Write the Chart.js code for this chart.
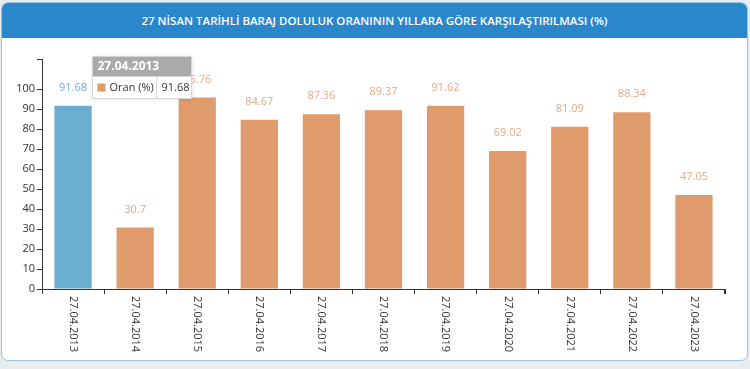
<!DOCTYPE html>
<html>
<head>
<meta charset="utf-8">
<script src="https://cdn.jsdelivr.net/npm/chart.js@4"></script>
<style>
  html, body { margin: 0; padding: 0; background: #e9ecee; }
  body { width: 750px; height: 369px; position: relative; overflow: hidden; font-family: "Open Sans", sans-serif; }
  .card { position: absolute; left: 1px; top: 2px; width: 745px; height: 357px; background: #fff;
          border: 1px solid #9fc3d6; border-radius: 7px; overflow: hidden; }
  .card-head { height: 35px; background: #2b87cc; color: #fff; text-align: center; }
  .card-head span { display: inline-block; font-weight: 600; font-size: 11.5px; line-height: 35px;
                    white-space: nowrap; }
  #chart { position: absolute; left: 0; top: 0; }
</style>
</head>
<body>
<div class="card"><div class="card-head"><span>27 NİSAN TARİHLİ BARAJ DOLULUK ORANININ YILLARA GÖRE KARŞILAŞTIRILMASI (%)</span></div></div>
<canvas id="chart" width="750" height="369"></canvas>
<script>
/* ================= DATA ================= */
const dates = ["27.04.2013", "27.04.2014", "27.04.2015", "27.04.2016", "27.04.2017", "27.04.2018",
               "27.04.2019", "27.04.2020", "27.04.2021", "27.04.2022", "27.04.2023"];
const oran = [91.68, 30.7, 95.76, 84.67, 87.36, 89.37, 91.62, 69.02, 81.09, 88.34, 47.05];
const yTicks = [0, 10, 20, 30, 40, 50, 60, 70, 80, 90, 100];
const seriesName = "Oran (%)";

/* ================= STYLE ================= */
const ORANGE = "#e09b6d";
const BLUE = "#6aaed0";
const LABEL_ORANGE = "#e6aa86";
const AXIS = "#333";
const activeIndex = 0;
const FONT = "'Open Sans', sans-serif";

/* ================= PLUGINS ================= */
const valueLabels = {
  id: "valueLabels",
  afterDatasetsDraw(chart) {
    const ctx = chart.ctx;
    const meta = chart.getDatasetMeta(0);
    ctx.save();
    ctx.font = "11px " + FONT;
    ctx.textAlign = "center";
    ctx.textBaseline = "middle";
    meta.data.forEach((bar, i) => {
      ctx.fillStyle = i === activeIndex ? BLUE : LABEL_ORANGE;
      ctx.fillText(String(oran[i]), bar.x, bar.y - 18);
    });
    ctx.restore();
  }
};

const xLabels = {
  id: "xLabels",
  afterDraw(chart) {
    const ctx = chart.ctx;
    const sx = chart.scales.x;
    const bottom = chart.chartArea.bottom;
    ctx.save();
    ctx.font = "11px " + FONT;
    ctx.fillStyle = AXIS;
    ctx.textAlign = "left";
    ctx.textBaseline = "middle";
    dates.forEach((d, i) => {
      ctx.save();
      ctx.translate(sx.getPixelForTick(i), bottom + 7);
      ctx.rotate(Math.PI / 2);
      ctx.fillText(d, 0, 0);
      ctx.restore();
    });
    // outer ticks at the ends of the x axis
    ctx.strokeStyle = AXIS;
    ctx.lineWidth = 1;
    ctx.beginPath();
    ctx.moveTo(sx.left + 0.5, bottom);
    ctx.lineTo(sx.left + 0.5, bottom + 5);
    ctx.moveTo(sx.right - 0.5, bottom);
    ctx.lineTo(sx.right - 0.5, bottom + 5);
    ctx.stroke();
    ctx.restore();
  }
};

const tooltipBox = {
  id: "tooltipBox",
  afterDraw(chart) {
    const ctx = chart.ctx;
    const bar = chart.getDatasetMeta(0).data[activeIndex];
    const x = Math.round(bar.x + bar.width / 2) + 0.5;
    const y = Math.round(bar.y - 50) + 0.5;
    const w = 99, titleH = 20, bodyH = 22;
    ctx.save();
    ctx.shadowColor = "rgba(0,0,0,0.15)";
    ctx.shadowBlur = 4;
    ctx.fillStyle = "#fff";
    ctx.fillRect(x, y, w, titleH + bodyH);
    ctx.shadowBlur = 0;
    ctx.fillStyle = "#aaaaaa";
    ctx.fillRect(x, y, w, titleH);
    ctx.strokeStyle = "#d6d6d6";
    ctx.lineWidth = 1;
    ctx.strokeRect(x, y, w, titleH + bodyH);
    ctx.beginPath();
    ctx.moveTo(x + 64, y + titleH);
    ctx.lineTo(x + 64, y + titleH + bodyH);
    ctx.stroke();
    ctx.fillStyle = "#fff";
    ctx.font = "bold 12px " + FONT;
    ctx.textBaseline = "middle";
    ctx.fillText(dates[activeIndex], x + 5, y + titleH / 2);
    ctx.fillStyle = ORANGE;
    ctx.fillRect(x + 5, y + titleH + 7, 8, 8);
    ctx.fillStyle = "#333";
    ctx.font = "11px " + FONT;
    ctx.fillText(seriesName, x + 17, y + titleH + bodyH / 2);
    ctx.fillText(String(oran[activeIndex]), x + 69, y + titleH + bodyH / 2);
    ctx.restore();
  }
};

/* ================= CHART ================= */
new Chart(document.getElementById("chart"), {
  type: "bar",
  data: {
    labels: dates,
    datasets: [{
      label: seriesName,
      data: oran,
      backgroundColor: oran.map((_, i) => i === activeIndex ? BLUE : ORANGE),
      barPercentage: 0.6,
      categoryPercentage: 1
    }]
  },
  options: {
    responsive: false,
    animation: false,
    events: [],
    layout: { padding: { top: 59, right: 25, left: 0, bottom: 0 } },
    plugins: { legend: { display: false }, tooltip: { enabled: false } },
    scales: {
      x: {
        grid: { drawOnChartArea: false, drawTicks: true, tickLength: 5, color: AXIS },
        border: { color: AXIS },
        ticks: { display: false },
        afterFit(s) { s.height = 369 - 289; }
      },
      y: {
        min: 0,
        max: 115,
        afterBuildTicks(s) { s.ticks = yTicks.concat([115]).map(v => ({ value: v })); },
        grid: { drawOnChartArea: false, drawTicks: true, tickLength: 5, color: AXIS },
        border: { color: AXIS },
        ticks: {
          padding: 2,
          color: AXIS,
          font: { family: FONT, size: 11 },
          callback: v => v > 100 ? "" : v
        },
        afterFit(s) { s.width = 42; }
      }
    }
  },
  plugins: [valueLabels, xLabels, tooltipBox]
});
</script>
</body>
</html>
